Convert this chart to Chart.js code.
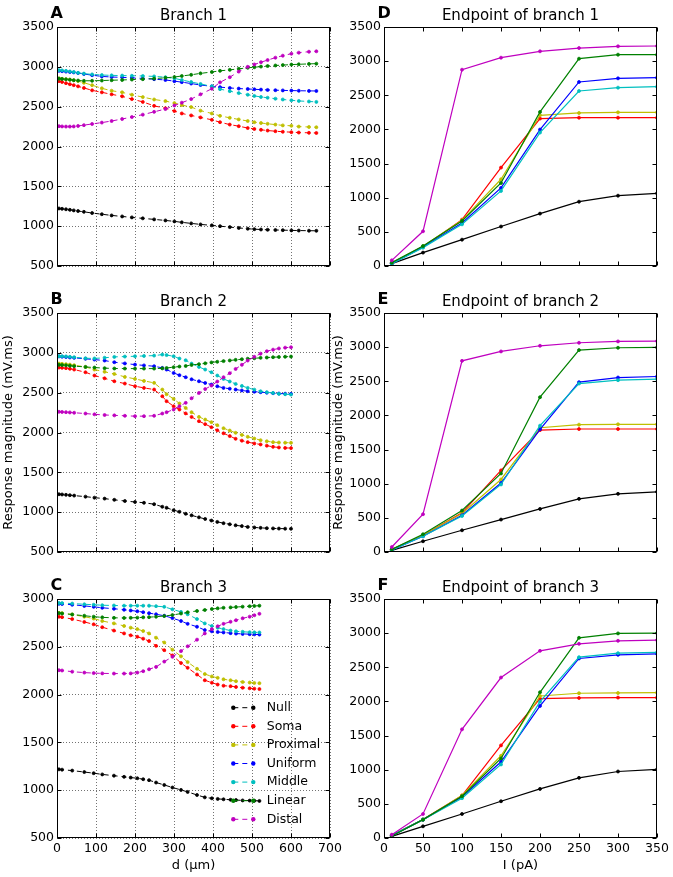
<!DOCTYPE html>
<html><head><meta charset="utf-8">
<script src="https://cdn.jsdelivr.net/npm/chart.js@4.4.1/dist/chart.umd.min.js"></script>
<style>
html,body{margin:0;padding:0;background:#fff;}
body{width:673px;height:877px;position:relative;overflow:hidden;}
canvas{position:absolute;}
</style></head><body>
<canvas id="cA" width="346" height="290" style="left:0;top:0;width:346px;height:290px"></canvas>
<canvas id="cB" width="346" height="290" style="left:0;top:287px;width:346px;height:290px"></canvas>
<canvas id="cC" width="346" height="303" style="left:0;top:574px;width:346px;height:303px"></canvas>
<canvas id="cD" width="343" height="290" style="left:330px;top:0;width:343px;height:290px"></canvas>
<canvas id="cE" width="343" height="290" style="left:330px;top:287px;width:343px;height:290px"></canvas>
<canvas id="cF" width="343" height="303" style="left:330px;top:574px;width:343px;height:303px"></canvas>
<script>
// ---------------- DATA ----------------
const seriesNames = ['Null','Soma','Proximal','Uniform','Middle','Linear','Distal'];

// Panel A: Branch 1 (distance d, µm)
const dA = [5,13,23,33,43,54,69,90,115,140,167,192,220,249,278,301,320,344,368,397,418,443,466,489,506,523,540,560,579,601,620,646,665];
const A_null = [1222,1218,1212,1205,1198,1190,1180,1165,1150,1135,1122,1110,1098,1085,1072,1060,1048,1035,1022,1010,1000,988,978,968,962,958,955,952,950,947,945,943,942];
const A_soma = [2820,2810,2795,2782,2770,2755,2735,2705,2680,2655,2630,2595,2560,2510,2480,2445,2415,2390,2365,2335,2305,2275,2255,2232,2220,2210,2200,2192,2185,2180,2175,2172,2170];
const A_prox = [2855,2850,2845,2840,2832,2822,2800,2770,2730,2700,2680,2650,2620,2590,2570,2545,2520,2495,2450,2415,2385,2360,2340,2320,2305,2295,2285,2275,2265,2260,2250,2245,2242];
const A_unif = [2950,2945,2940,2935,2930,2922,2910,2895,2880,2872,2868,2862,2855,2845,2835,2820,2808,2790,2772,2755,2745,2735,2727,2722,2718,2714,2710,2707,2704,2702,2700,2698,2697];
const A_mid  = [2958,2955,2950,2942,2935,2925,2915,2905,2897,2893,2890,2888,2885,2880,2870,2855,2835,2810,2785,2755,2720,2695,2670,2650,2635,2622,2612,2600,2590,2580,2572,2565,2560];
const A_lin  = [2852,2848,2843,2838,2832,2828,2825,2825,2828,2832,2835,2840,2845,2852,2862,2872,2885,2900,2918,2935,2950,2962,2975,2988,2995,3003,3010,3017,3022,3028,3032,3037,3040];
const A_dist = [2255,2252,2250,2250,2252,2258,2268,2283,2300,2320,2345,2370,2400,2435,2470,2515,2550,2595,2655,2725,2805,2870,2940,3000,3030,3058,3085,3115,3140,3165,3178,3190,3195];

// Panel B: Branch 2
const dB = [5,13,23,33,44,73,96,122,147,174,200,223,249,270,281,299,314,330,345,364,380,396,411,427,443,458,474,489,506,522,538,554,569,585,600];
const B_null = [1225,1222,1218,1213,1208,1195,1182,1170,1155,1140,1128,1118,1100,1068,1055,1025,1005,980,960,935,915,895,878,862,848,835,825,815,808,803,799,796,794,793,792];
const B_soma = [2815,2812,2808,2800,2790,2756,2715,2680,2643,2614,2581,2560,2539,2455,2393,2330,2288,2240,2196,2142,2105,2067,2028,1990,1955,1921,1898,1879,1862,1850,1835,1820,1812,1807,1804];
const B_prox = [2865,2862,2858,2852,2845,2823,2790,2762,2735,2698,2673,2648,2623,2539,2480,2422,2364,2308,2255,2196,2162,2130,2092,2054,2024,1996,1970,1946,1924,1904,1890,1879,1874,1872,1871];
const B_unif = [2955,2952,2948,2942,2937,2925,2915,2903,2882,2867,2852,2842,2832,2811,2790,2748,2720,2694,2668,2643,2622,2602,2580,2560,2550,2539,2528,2518,2512,2506,2500,2493,2489,2487,2485];
const B_mid  = [2958,2957,2955,2950,2945,2932,2930,2938,2949,2953,2957,2961,2965,2978,2972,2957,2928,2907,2865,2823,2790,2756,2715,2673,2640,2610,2585,2560,2538,2518,2505,2497,2485,2480,2476];
const B_lin  = [2850,2847,2843,2838,2833,2823,2815,2808,2803,2802,2802,2802,2802,2805,2810,2820,2828,2835,2848,2858,2868,2880,2888,2896,2904,2912,2920,2926,2932,2937,2941,2945,2948,2951,2953];
const B_dist = [2260,2258,2255,2252,2248,2238,2228,2220,2215,2210,2205,2205,2210,2238,2255,2288,2330,2372,2430,2497,2545,2589,2640,2694,2745,2798,2850,2903,2950,2990,3020,3040,3055,3065,3070];

// Panel C: Branch 3
const dC = [5,13,39,70,94,116,146,172,189,206,221,236,254,275,296,318,335,359,379,397,412,427,445,459,476,494,506,519];
const C_null = [1218,1215,1205,1190,1178,1165,1152,1140,1132,1125,1115,1105,1080,1055,1028,1003,982,950,925,915,909,905,900,897,893,891,890,888];
const C_soma = [2815,2810,2790,2760,2735,2705,2670,2640,2620,2605,2585,2560,2510,2465,2410,2330,2280,2210,2150,2125,2105,2093,2088,2080,2072,2066,2062,2058];
const C_prox = [2855,2852,2838,2815,2795,2770,2745,2718,2700,2685,2665,2640,2595,2545,2470,2400,2340,2270,2215,2190,2175,2160,2150,2140,2132,2126,2122,2120];
const C_unif = [2950,2948,2940,2928,2918,2908,2898,2888,2880,2872,2862,2852,2840,2825,2800,2770,2740,2710,2675,2662,2655,2650,2643,2638,2635,2632,2630,2628];
const C_mid  = [2958,2957,2952,2945,2940,2935,2932,2930,2930,2930,2930,2930,2925,2918,2892,2865,2840,2790,2745,2718,2700,2685,2670,2662,2657,2653,2651,2650];
const C_lin  = [2852,2848,2838,2825,2815,2808,2803,2802,2803,2805,2808,2810,2815,2822,2832,2848,2862,2875,2885,2895,2902,2908,2912,2916,2920,2924,2927,2930];
const C_dist = [2255,2252,2240,2230,2225,2222,2220,2220,2222,2230,2245,2265,2290,2345,2395,2455,2505,2575,2640,2685,2715,2740,2762,2778,2798,2815,2830,2845];

// Panels D-F: endpoints (current I, pA)
const currentI = [10,50,100,150,200,250,300,350];
const D_null = [35,196,386,578,767,942,1030,1064];
const D_soma = [45,280,679,1441,2159,2172,2172,2172];
const D_prox = [45,288,669,1270,2207,2241,2250,2250];
const D_unif = [35,278,630,1143,1998,2695,2748,2758];
const D_mid  = [35,269,610,1099,1954,2563,2612,2626];
const D_lin  = [49,293,660,1216,2256,3036,3095,3095];
const D_dist = [83,508,2875,3051,3144,3192,3217,3222];

const E_null = [24,157,318,475,631,778,852,881];
const E_soma = [40,245,573,1195,1785,1801,1801,1801];
const E_prox = [35,245,563,1062,1820,1865,1870,1870];
const E_unif = [30,230,538,1010,1797,2487,2555,2570];
const E_mid  = [30,230,528,989,1850,2467,2516,2531];
const E_lin  = [39,260,607,1150,2267,2957,2991,2996];
const E_dist = [73,553,2799,2937,3020,3064,3084,3089];

const F_null = [24,171,352,538,719,881,974,1004];
const F_soma = [40,269,622,1356,2041,2051,2056,2056];
const F_prox = [40,269,622,1204,2080,2120,2124,2129];
const F_unif = [35,269,602,1116,1934,2629,2683,2697];
const F_mid  = [35,269,583,1077,1997,2648,2707,2717];
const F_lin  = [29,269,612,1165,2134,2932,2996,3001];
const F_dist = [49,352,1591,2350,2741,2844,2888,2898];

const leftTicksX = [0,100,200,300,400,500,600,700];
const rightTicksX = [0,50,100,150,200,250,300,350];

// ---------------- STYLE ----------------
const seriesColors = ['#000000','#ff0000','#bfbf00','#0000ff','#00bfbf','#008000','#bf00bf'];
const FONT = 'DejaVu Sans';
Chart.defaults.font.family = FONT;
Chart.defaults.font.size = 12.5;
Chart.defaults.color = '#000';

const al = v => Math.round(v) + 0.5;

const panelDeco = {
  id: 'panelDeco',
  afterDraw(chart, args, o) {
    const {ctx, chartArea: a, scales} = chart;
    ctx.save();
    ctx.strokeStyle = '#000';
    ctx.lineWidth = 1;
    ctx.setLineDash([]);
    const L = al(a.left), R = al(a.right) - 1, T = al(a.top), B = al(a.bottom) - 1;
    ctx.strokeRect(L, T, R - L, B - T);
    // inward ticks
    ctx.beginPath();
    scales.x.ticks.forEach(t => {
      const px = al(scales.x.getPixelForValue(t.value));
      ctx.moveTo(px, B); ctx.lineTo(px, B - 4);
      ctx.moveTo(px, T); ctx.lineTo(px, T + 4);
    });
    scales.y.ticks.forEach(t => {
      const py = al(scales.y.getPixelForValue(t.value));
      ctx.moveTo(L, py); ctx.lineTo(L + 4, py);
      ctx.moveTo(R, py); ctx.lineTo(R - 4, py);
    });
    ctx.stroke();
    // letter and title
    ctx.fillStyle = '#000';
    ctx.font = 'bold 16px "' + FONT + '"';
    ctx.textAlign = 'left';
    ctx.textBaseline = 'alphabetic';
    ctx.fillText(o.letter, a.left - 6.5, a.top - 9.5);
    ctx.font = '15px "' + FONT + '"';
    ctx.textAlign = 'center';
    ctx.textBaseline = 'middle';
    ctx.fillText(o.title, (a.left + a.right) / 2, a.top - 10.5);
    ctx.restore();
  }
};

const panelLegend = {
  id: 'panelLegend',
  afterDraw(chart, args, o) {
    if (!o.show) return;
    const {ctx, chartArea: a} = chart;
    chart.data.datasets.forEach((ds, i) => {
      const y = a.bottom - 130.3 + i * 18.6;
      const x0 = a.right - 96.7, x1 = a.right - 76.7;
      ctx.save();
      ctx.strokeStyle = ds.borderColor;
      ctx.lineWidth = 1;
      ctx.setLineDash(ds.borderDash || []);
      ctx.beginPath(); ctx.moveTo(x0, y); ctx.lineTo(x1, y); ctx.stroke();
      ctx.setLineDash([]);
      ctx.fillStyle = ds.borderColor;
      [x0, x1].forEach(x => { ctx.beginPath(); ctx.arc(x, y, 2.2, 0, 2 * Math.PI); ctx.fill(); });
      ctx.fillStyle = '#000';
      ctx.font = '12.5px "' + FONT + '"';
      ctx.textBaseline = 'middle';
      ctx.textAlign = 'left';
      ctx.fillText(ds.label, a.right - 63.3, y);
      ctx.restore();
    });
  }
};

function buildDatasets(xs, seriesList, dashed) {
  return seriesList.map((ys, i) => ({
    label: seriesNames[i],
    data: xs.map((x, j) => ({x: x, y: ys[j]})),
    borderColor: seriesColors[i],
    backgroundColor: seriesColors[i],
    pointBackgroundColor: seriesColors[i],
    pointBorderColor: seriesColors[i],
    borderWidth: dashed ? 1 : 1.2,
    borderDash: dashed ? [5, 4] : [],
    pointRadius: 1.5,
    pointBorderWidth: 0.8,
    tension: 0,
    order: seriesList.length - 1 - i
  }));
}

function makePanel(id, c) {
  new Chart(document.getElementById(id), {
    type: 'line',
    data: {datasets: buildDatasets(c.xs, c.series, c.dashed)},
    plugins: [panelDeco, panelLegend],
    options: {
      responsive: false,
      animation: false,
      events: [],
      layout: {padding: c.pad},
      plugins: {
        legend: {display: false},
        tooltip: {enabled: false},
        title: {display: false},
        panelDeco: {letter: c.letter, title: c.title},
        panelLegend: {show: !!c.legend}
      },
      scales: {
        x: {
          type: 'linear', min: c.xTicks[0], max: c.xTicks[c.xTicks.length - 1],
          afterBuildTicks: s => { s.ticks = c.xTicks.map(v => ({value: v})); },
          ticks: {display: c.showX, padding: 3, maxRotation: 0, autoSkip: false, callback: v => String(v)},
          grid: {display: c.grid, drawTicks: false, color: 'rgba(0,0,0,0.55)', lineWidth: 1},
          border: {display: false, dash: [1, 2]},
          title: {display: !!c.xTitle, text: c.xTitle || '', font: {size: 13}, padding: {top: 0, bottom: 4}},
          afterFit: s => { s.height = c.showX ? 39 : 0; }
        },
        y: {
          type: 'linear', min: c.yMin, max: 3500,
          ticks: {stepSize: 500, padding: 3, callback: v => String(v)},
          grid: {display: c.grid, drawTicks: false, color: 'rgba(0,0,0,0.55)', lineWidth: 1},
          border: {display: false, dash: [1, 2]},
          title: {display: !!c.yTitle, text: c.yTitle || '', font: {size: 13}, padding: {top: 1, bottom: 0}},
          afterFit: s => { s.width = c.yWidth; }
        }
      }
    }
  });
}

const yLab = 'Response magnitude (mV.ms)';
makePanel('cA', {xs: dA, series: [A_null,A_soma,A_prox,A_unif,A_mid,A_lin,A_dist], dashed: true, grid: true,
  xTicks: leftTicksX, showX: false, yMin: 500, yWidth: 57, pad: {left: 0, right: 16, top: 27, bottom: 24},
  letter: 'A', title: 'Branch 1'});
makePanel('cB', {xs: dB, series: [B_null,B_soma,B_prox,B_unif,B_mid,B_lin,B_dist], dashed: true, grid: true,
  xTicks: leftTicksX, showX: false, yMin: 500, yWidth: 57, pad: {left: 0, right: 16, top: 26, bottom: 25},
  letter: 'B', title: 'Branch 2', yTitle: yLab});
makePanel('cC', {xs: dC, series: [C_null,C_soma,C_prox,C_unif,C_mid,C_lin,C_dist], dashed: true, grid: true,
  xTicks: leftTicksX, showX: true, yMin: 500, yWidth: 57, pad: {left: 0, right: 16, top: 25, bottom: 0},
  letter: 'C', title: 'Branch 3', xTitle: 'd (μm)', legend: true});
// y max 3000 for panel C handled below via a separate config tweak
makePanel('cD', {xs: currentI, series: [D_null,D_soma,D_prox,D_unif,D_mid,D_lin,D_dist], dashed: false, grid: false,
  xTicks: rightTicksX, showX: false, yMin: 0, yWidth: 54, pad: {left: 0, right: 16, top: 27, bottom: 24},
  letter: 'D', title: 'Endpoint of branch 1'});
makePanel('cE', {xs: currentI, series: [E_null,E_soma,E_prox,E_unif,E_mid,E_lin,E_dist], dashed: false, grid: false,
  xTicks: rightTicksX, showX: false, yMin: 0, yWidth: 54, pad: {left: 0, right: 16, top: 26, bottom: 25},
  letter: 'E', title: 'Endpoint of branch 2', yTitle: yLab});
makePanel('cF', {xs: currentI, series: [F_null,F_soma,F_prox,F_unif,F_mid,F_lin,F_dist], dashed: false, grid: false,
  xTicks: rightTicksX, showX: true, yMin: 0, yWidth: 54, pad: {left: 0, right: 16, top: 25, bottom: 0},
  letter: 'F', title: 'Endpoint of branch 3', xTitle: 'I (pA)'});

// Panel C uses a 500–3000 y range
const chC = Chart.getChart('cC');
chC.options.scales.y.max = 3000;
chC.update('none');
</script>
</body></html>
